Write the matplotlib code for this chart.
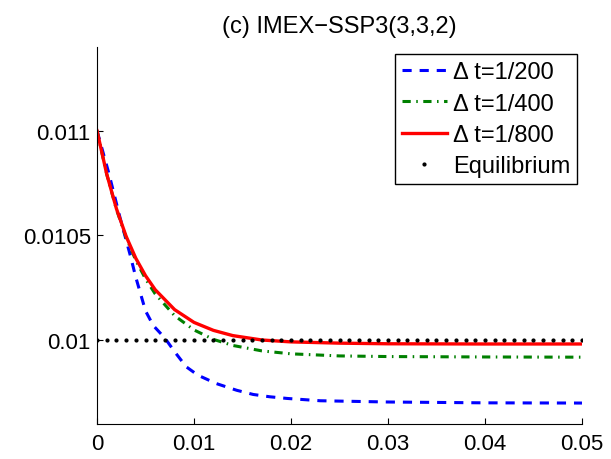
import numpy as np
import matplotlib.pyplot as plt

plt.rcParams['font.family'] = ['Liberation Sans', 'DejaVu Sans']

# Valores
t_200 = [0, 0.0012, 0.0024, 0.0034, 0.0040, 0.0050, 0.0058, 0.0070, 0.0080,
         0.0092, 0.0104, 0.0123, 0.0144, 0.0161, 0.0178, 0.0196, 0.0230,
         0.030, 0.040, 0.050]
u_200 = [0.011, 0.01080, 0.01058, 0.01041, 0.01030, 0.01014, 0.01007, 0.01001,
         0.009945, 0.009873, 0.009833, 0.009793, 0.009761, 0.009741, 0.009730,
         0.009722, 0.009711, 0.009705, 0.009701, 0.009700]

t_400 = [0, 0.001, 0.002, 0.003, 0.004, 0.005, 0.006, 0.008, 0.010, 0.012,
         0.014, 0.017, 0.020, 0.025, 0.030, 0.040, 0.050]
u_400 = [0.011, 0.010793, 0.010625, 0.010490, 0.010381, 0.010293, 0.010221,
         0.010117, 0.010049, 0.010004, 0.009975, 0.009949, 0.009935, 0.009925,
         0.009922, 0.009920, 0.009919]

t_800 = [0, 0.001, 0.002, 0.003, 0.004, 0.005, 0.006, 0.008, 0.010, 0.012,
         0.014, 0.017, 0.020, 0.025, 0.030, 0.040, 0.050]
u_800 = [0.011, 0.010793, 0.010628, 0.010496, 0.010391, 0.010308, 0.010241,
         0.010146, 0.010085, 0.010047, 0.010022, 0.010001, 0.009992, 0.009986,
         0.009983, 0.009982, 0.009982]

t_eq = np.linspace(0, 0.05, 51)
u_eq = 0.01

xticks = [0, 0.01, 0.02, 0.03, 0.04, 0.05]
xticklabels = ['0', '0.01', '0.02', '0.03', '0.04', '0.05']
yticks = [0.01, 0.0105, 0.011]
yticklabels = ['0.01', '0.0105', '0.011']

fig = plt.figure(figsize=(6.11, 4.60), dpi=100)
ax = fig.add_axes([0.1588, 0.0761, 0.7937, 0.8196])

ax.plot(t_200, u_200, '--', color='#0000ff', lw=2.2, dashes=(3, 2.6), label='\u0394 t=1/200')
ax.plot(t_400, u_400, '-.', color='#008000', lw=2.2, dashes=(2.7, 1.8, 0.5, 1.8), label='\u0394 t=1/400')
ax.plot(t_800, u_800, '-', color='#ff0000', lw=2.4, label='\u0394 t=1/800')
ax.plot(t_eq, np.full(len(t_eq), u_eq), 'k.', ms=4, label='Equilibrium')

ax.set_xlim(0, 0.05)
ax.set_ylim(0.0096, 0.0114)
ax.set_xticks(xticks)
ax.set_xticklabels(xticklabels)
ax.set_yticks(yticks)
ax.set_yticklabels(yticklabels)
ax.tick_params(direction='in', length=4, labelsize=16)
ax.tick_params(axis='y', pad=4.5)
ax.tick_params(axis='x', pad=6.5)
ax.spines['top'].set_visible(False)
ax.spines['right'].set_visible(False)
fig.text(0.1588 + 0.7937 / 2, 1 - 27.5 / 460, '(c) IMEX\u2212SSP3(3,3,2)', fontsize=17,
         ha='center', va='center')

leg = ax.legend(loc='upper right', bbox_to_anchor=(0.9897, 0.9814), fontsize=17,
                handlelength=1.9, handletextpad=0.25, labelspacing=0.4,
                borderpad=0.3, borderaxespad=0, fancybox=False,
                edgecolor='black', framealpha=1)
leg.get_frame().set_linewidth(1.0)

plt.savefig('out.png')
